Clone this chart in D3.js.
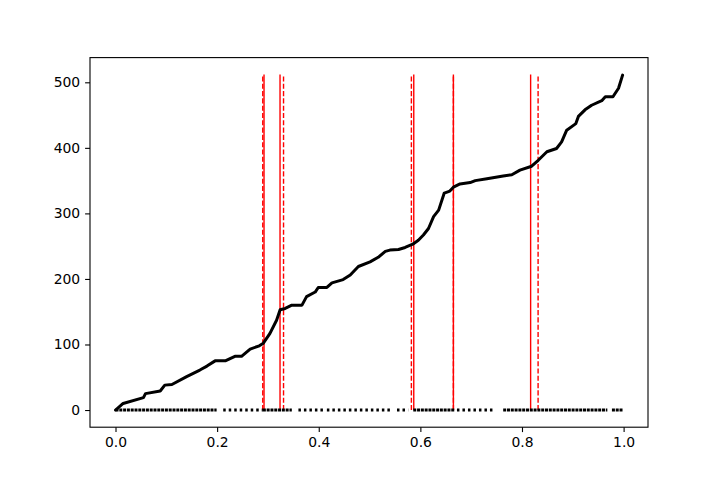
<!DOCTYPE html>
<html>
<head>
<meta charset="utf-8">
<script src="https://cdn.jsdelivr.net/npm/d3@7"></script>
<style>
  body { margin: 0; background: #fff; }
  svg { display: block; }
  .axis text { font-size: 13.9px; fill: #000; font-family: "DejaVu Sans", sans-serif; }
  .axis line, .axis path { stroke: #000; stroke-width: 1.1px; }
</style>
</head>
<body>
<svg width="720" height="480"></svg>
<script>
// ==================
// DATA
// ==================
// cumulative curve: sorted value -> running count
var curveX = [0.000, 0.015, 0.055, 0.059, 0.088, 0.097, 0.111, 0.140, 0.166, 0.180,
  0.196, 0.216, 0.235, 0.248, 0.265, 0.283, 0.291, 0.304, 0.317, 0.324,
  0.334, 0.347, 0.367, 0.376, 0.393, 0.399, 0.416, 0.426, 0.448, 0.462,
  0.478, 0.501, 0.517, 0.531, 0.540, 0.557, 0.570, 0.585, 0.596, 0.606,
  0.616, 0.626, 0.636, 0.647, 0.658, 0.665, 0.678, 0.698, 0.708, 0.731,
  0.763, 0.780, 0.796, 0.819, 0.832, 0.849, 0.868, 0.878, 0.888, 0.906,
  0.911, 0.924, 0.937, 0.957, 0.964, 0.979, 0.990, 0.998];
var curveY = [0, 10, 19, 25, 29, 38, 39, 51, 61, 67,
  75, 75, 82, 82, 93, 98, 102, 117, 137, 153,
  155, 160, 160, 173, 180, 187, 187, 194, 199, 206,
  219, 226, 233, 242, 244, 245, 248, 253, 259, 267,
  277, 295, 305, 331, 334, 340, 345, 347, 350, 353,
  357, 359, 366, 372, 381, 394, 399, 409, 427, 437,
  448, 458, 465, 472, 478, 478, 491, 511];

// rug of the same values along y = 0: runs of dense and sparse dots
var denseRuns = [[0.000, 0.199], [0.290, 0.347], [0.586, 0.668], [0.763, 0.968], [0.977, 0.999]];
var sparseRuns = [[0.212, 0.290], [0.360, 0.409], [0.416, 0.544], [0.554, 0.576], [0.672, 0.743]];

// vertical markers
var solidLines = [0.2923, 0.3238, 0.587, 0.665, 0.817];
var dashedLines = [0.2898, 0.3307, 0.5823, 0.665, 0.8317];
var lineTop = 512;

var xTicks = [0.0, 0.2, 0.4, 0.6, 0.8, 1.0];
var yTicks = [0, 100, 200, 300, 400, 500];

// ==================
// MAIN
// ==================
var svg = d3.select("svg");
var mLeft = 90, mRight = 648, mTop = 57.6, mBottom = 427.2;

var x = d3.scaleLinear().domain([-0.0502, 1.048]).range([mLeft, mRight]);
var y = d3.scaleLinear().domain([-26.2, 537.7]).range([mBottom, mTop]);

// red vertical lines
svg.append("g").selectAll("line")
  .data(solidLines)
  .enter().append("line")
  .attr("x1", function (d) { return x(d); })
  .attr("x2", function (d) { return x(d); })
  .attr("y1", y(0))
  .attr("y2", y(lineTop))
  .attr("stroke", "#ff0000")
  .attr("stroke-width", 1.4);

svg.append("g").selectAll("line")
  .data(dashedLines)
  .enter().append("line")
  .attr("x1", function (d) { return x(d); })
  .attr("x2", function (d) { return x(d); })
  .attr("y1", y(0))
  .attr("y2", y(lineTop))
  .attr("stroke", "#ff0000")
  .attr("stroke-width", 1.4)
  .attr("stroke-dasharray", "5.1,2.2");

// rug at zero
svg.append("g").selectAll("line")
  .data(denseRuns)
  .enter().append("line")
  .attr("x1", function (d) { return x(d[0]); })
  .attr("x2", function (d) { return x(d[1]); })
  .attr("y1", y(0))
  .attr("y2", y(0))
  .attr("stroke", "#000")
  .attr("stroke-width", 3)
  .attr("stroke-dasharray", "3,0.8");

svg.append("g").selectAll("line")
  .data(sparseRuns)
  .enter().append("line")
  .attr("x1", function (d) { return x(d[0]); })
  .attr("x2", function (d) { return x(d[1]); })
  .attr("y1", y(0))
  .attr("y2", y(0))
  .attr("stroke", "#000")
  .attr("stroke-width", 3)
  .attr("stroke-dasharray", "2.5,3");

// cumulative curve
var line = d3.line()
  .x(function (d, i) { return x(curveX[i]); })
  .y(function (d) { return y(d); })
  .curve(d3.curveLinear);

svg.append("path")
  .datum(curveY)
  .attr("d", line)
  .attr("fill", "none")
  .attr("stroke", "#000")
  .attr("stroke-width", 3)
  .attr("stroke-linejoin", "round")
  .attr("stroke-linecap", "round");

// axes
svg.append("g")
  .attr("class", "axis")
  .attr("transform", "translate(0," + mBottom + ")")
  .call(d3.axisBottom(x).tickValues(xTicks).tickFormat(d3.format(".1f"))
    .tickSize(4.9).tickPadding(4.9).tickSizeOuter(0))
  .call(function (g) { g.select(".domain").remove(); });

svg.append("g")
  .attr("class", "axis")
  .attr("transform", "translate(" + mLeft + ",0)")
  .call(d3.axisLeft(y).tickValues(yTicks).tickFormat(d3.format("d"))
    .tickSize(4.9).tickPadding(4.9).tickSizeOuter(0))
  .call(function (g) { g.select(".domain").remove(); });

// frame
svg.append("rect")
  .attr("x", mLeft)
  .attr("y", mTop)
  .attr("width", mRight - mLeft)
  .attr("height", mBottom - mTop)
  .attr("fill", "none")
  .attr("stroke", "#000")
  .attr("stroke-width", 1.1);
</script>
</body>
</html>
